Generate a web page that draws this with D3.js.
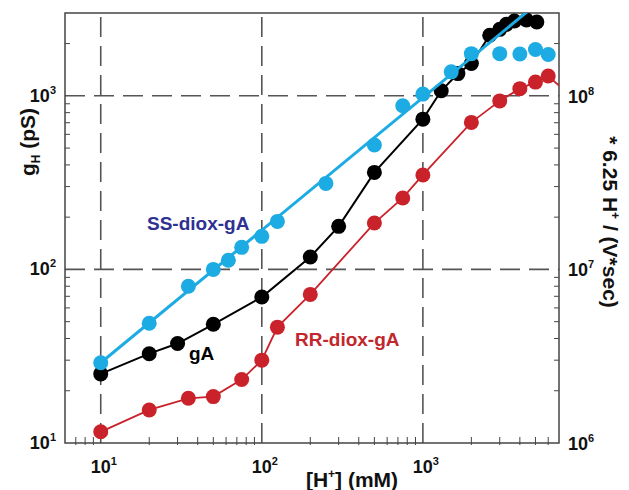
<!DOCTYPE html>
<html>
<head>
<meta charset="utf-8">
<script src="https://cdn.jsdelivr.net/npm/d3@7"></script>
<style>
  body { margin: 0; background: #fff; }
  text { font-family: "Liberation Sans", Arial, sans-serif; font-weight: bold; }
</style>
</head>
<body>
<svg id="chart" width="629" height="490"></svg>
<script>
// SS-diox-gA (blue)
var ssX = [10, 20, 35, 50, 62, 75, 100, 125, 250, 500, 750, 1000, 1500, 2000, 3000, 4000, 5000, 6000];
var ssY = [29, 49, 80, 100, 113, 134, 155, 189, 313, 521, 877, 1023, 1374, 1750, 1750, 1740, 1850, 1730];
// straight fit through the SS points
var fitX = [10, 5000];
var fitY = [29, 3340];
// gA (black)
var gaX = [10, 20, 30, 50, 100, 200, 300, 500, 1000, 1300, 1650, 2000, 2600, 3000, 3300, 3700, 4400, 5100];
var gaY = [25, 32.7, 37.4, 48.3, 69.3, 118, 177, 362, 734, 1069, 1343, 1534, 2235, 2415, 2580, 2700, 2735, 2660];
// RR-diox-gA (red)
var rrX = [10, 20, 35, 50, 75, 100, 125, 200, 500, 750, 1000, 2000, 3000, 4000, 5000, 6000, 8000];
var rrY = [11.6, 15.5, 18.1, 18.5, 23.2, 30, 46.5, 71.8, 185, 258, 350, 703, 935, 1100, 1200, 1300, 1030];

var xMajor = [10, 100, 1000];
var xMinor = [7, 8, 9, 20, 30, 40, 50, 60, 70, 80, 90, 200, 300, 400, 500, 600, 700, 800, 900, 2000, 3000, 4000, 5000, 6000];
var yMajor = [10, 100, 1000];
var yMinor = [20, 30, 40, 50, 60, 70, 80, 90, 200, 300, 400, 500, 600, 700, 800, 900, 2000];
var xLabels = ["1", "2", "3"];
var yLabels = ["1", "2", "3"];
var y2Labels = ["6", "7", "8"];

var svg = d3.select("#chart");
var pl = 65, pr = 559, pt = 13, pb = 443;

var x = d3.scaleLog().domain([6, 7000]).range([pl, pr]);
var y = d3.scaleLog().domain([10, 3000]).range([pb, pt]);

function pts(xs, ys) {
  return xs.map(function(v, i) { return [v, ys[i]]; });
}
var line = d3.line()
    .x(function(d) { return x(d[0]); })
    .y(function(d) { return y(d[1]); });

svg.append("clipPath").attr("id", "plot")
  .append("rect").attr("x", pl).attr("y", pt)
  .attr("width", pr - pl).attr("height", pb - pt);

// dashed grid at decades
var grid = svg.append("g").attr("stroke", "#555").attr("stroke-width", 1.6)
    .attr("stroke-dasharray", "20,9");
grid.selectAll(".gx").data(xMajor).enter().append("line")
    .attr("x1", function(d) { return x(d); }).attr("x2", function(d) { return x(d); })
    .attr("y1", pb).attr("y2", pt);
grid.selectAll(".gy").data([100, 1000]).enter().append("line")
    .attr("y1", function(d) { return y(d); }).attr("y2", function(d) { return y(d); })
    .attr("x1", pl).attr("x2", pr);

// minor ticks
var ticks = svg.append("g").attr("stroke", "#444").attr("stroke-width", 1);
ticks.selectAll(".tx").data(xMinor).enter().append("line")
    .attr("x1", function(d) { return x(d); }).attr("x2", function(d) { return x(d); })
    .attr("y1", pb - 6).attr("y2", pb + 2);
ticks.selectAll(".tl").data(yMinor).enter().append("line")
    .attr("y1", function(d) { return y(d); }).attr("y2", function(d) { return y(d); })
    .attr("x1", pl).attr("x2", pl + 5);
ticks.selectAll(".tr").data(yMinor).enter().append("line")
    .attr("y1", function(d) { return y(d); }).attr("y2", function(d) { return y(d); })
    .attr("x1", pr - 5).attr("x2", pr);

// frame
svg.append("rect").attr("x", pl).attr("y", pt)
    .attr("width", pr - pl).attr("height", pb - pt)
    .attr("fill", "none").attr("stroke", "#444").attr("stroke-width", 1.5);

var plot = svg.append("g").attr("clip-path", "url(#plot)");

function series(xs, ys, color, width) {
  var data = pts(xs, ys);
  plot.append("path").datum(data)
      .attr("d", line).attr("fill", "none")
      .attr("stroke", color).attr("stroke-width", width);
  plot.append("g").selectAll("circle").data(data).enter().append("circle")
      .attr("cx", function(d) { return x(d[0]); })
      .attr("cy", function(d) { return y(d[1]); })
      .attr("r", 7.5).attr("fill", color);
}

series(rrX, rrY, "#c9222a", 1.8);
series(gaX, gaY, "#000", 2);

plot.append("g").selectAll("circle").data(pts(ssX, ssY)).enter().append("circle")
    .attr("cx", function(d) { return x(d[0]); })
    .attr("cy", function(d) { return y(d[1]); })
    .attr("r", 7.5).attr("fill", "#1cabe2");
plot.append("path").datum(pts(fitX, fitY))
    .attr("d", line).attr("fill", "none")
    .attr("stroke", "#1cabe2").attr("stroke-width", 3);

// tick labels
function power(sel, base, exp) {
  sel.append("tspan").text(base);
  sel.append("tspan").attr("font-size", 11).attr("dy", -8).text(exp);
}
xMajor.forEach(function(v, i) {
  var t = svg.append("text").attr("x", x(v) + 3).attr("y", 473)
      .attr("text-anchor", "middle").attr("font-size", 18).attr("fill", "#111");
  power(t, "10", xLabels[i]);
});
yMajor.forEach(function(v, i) {
  var t = svg.append("text").attr("x", 56).attr("y", y(v) + 6)
      .attr("text-anchor", "end").attr("font-size", 18).attr("fill", "#111");
  power(t, "10", yLabels[i]);
  var t2 = svg.append("text").attr("x", 568).attr("y", y(v) + 7)
      .attr("font-size", 18).attr("fill", "#111");
  power(t2, "10", y2Labels[i]);
});

// axis titles
var xt = svg.append("text").attr("x", 352).attr("y", 487)
    .attr("text-anchor", "middle").attr("font-size", 21).attr("fill", "#111");
xt.append("tspan").text("[H");
xt.append("tspan").attr("font-size", 12).attr("dy", -9).text("+");
xt.append("tspan").attr("dy", 9).text("] (mM)");

var yt = svg.append("text").attr("transform", "translate(35,142) rotate(-90)")
    .attr("text-anchor", "middle").attr("font-size", 21).attr("fill", "#111");
yt.append("tspan").text("g");
yt.append("tspan").attr("font-size", 12).attr("dy", 5).text("H");
yt.append("tspan").attr("dy", -5).text(" (pS)");

var rt = svg.append("text").attr("transform", "translate(603,222) rotate(90)")
    .attr("text-anchor", "middle").attr("font-size", 21).attr("fill", "#111");
rt.append("tspan").text("* 6.25 H");
rt.append("tspan").attr("font-size", 12).attr("dy", -8).text("+");
rt.append("tspan").attr("dy", 8).text(" / (V*sec)");

// series labels
svg.append("text").attr("x", 147).attr("y", 230).attr("font-size", 19)
    .attr("fill", "#2e3192").text("SS-diox-gA");
svg.append("text").attr("x", 189).attr("y", 360).attr("font-size", 19)
    .attr("fill", "#000").text("gA");
svg.append("text").attr("x", 295).attr("y", 346).attr("font-size", 19)
    .attr("fill", "#c1272d").text("RR-diox-gA");
</script>
</body>
</html>
